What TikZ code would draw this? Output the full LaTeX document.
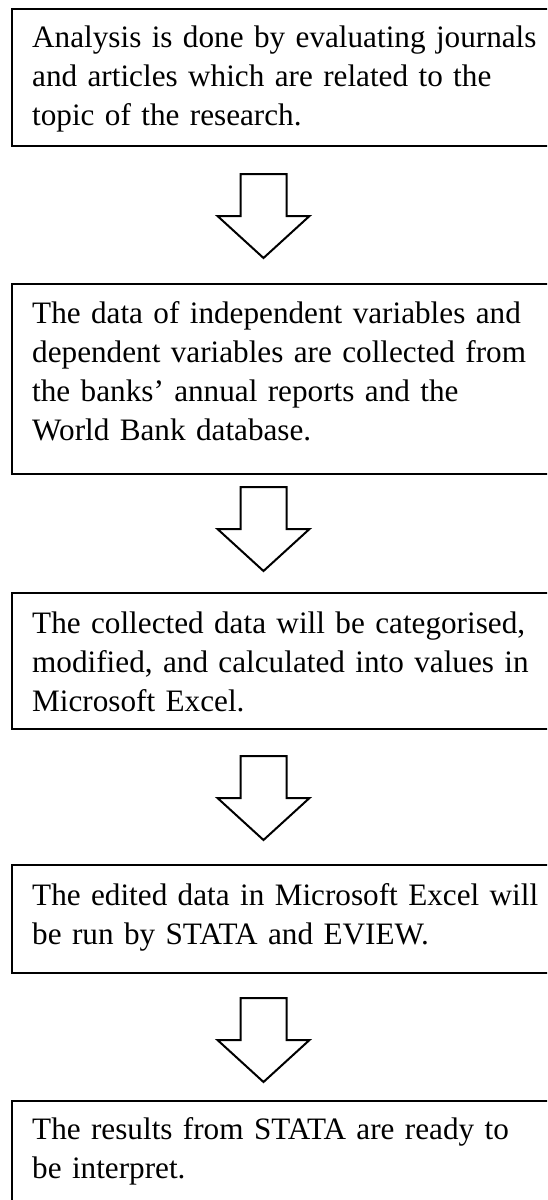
\documentclass[tikz,border=0pt]{standalone}
\usepackage{fontspec}
\setmainfont{Liberation Serif}
\hyphenpenalty=10000
\begin{document}
\begin{tikzpicture}[x=1pt,y=-1pt,
  box/.style={draw=black, line width=2.2pt, anchor=north west, minimum width=570pt, inner sep=0pt},
  txt/.style={anchor=base west, inner sep=0pt, text width=600pt, align=left,
    font=\fontsize{31.2}{39.3}\selectfont},
  arr/.style={draw=black, line width=2pt, line join=miter, fill=white},
  blockarrow/.pic={\path[arr] (-23,0) -- (-23,42) -- (-46,42) -- (0,84) -- (46,42) -- (23,42) -- (23,0) -- cycle;}
]
\useasboundingbox (0,0) rectangle (547,1200);
\clip (0,0) rectangle (547,1200);

% boxes
\node[box, minimum height=137pt] (b1) at (10.5,7.5) {};
\node[box, minimum height=190pt] (b2) at (10.5,283) {};
\node[box, minimum height=136pt] (b3) at (10.5,592) {};
\node[box, minimum height=108pt] (b4) at (10.5,864) {};
\node[box, minimum height=200pt] (b5) at (10.5,1100) {};

% texts
\node[txt] (t1) at (32,47) {Analysis is done by evaluating journals\\and articles which are related to the\\topic of the research.};
\node[txt] (t2) at (32,323) {The data of independent variables and\\dependent variables are collected from\\the banks’ annual reports and the\\World Bank database.};
\node[txt] (t3) at (32,633) {The collected data will be categorised,\\modified, and calculated into values in\\Microsoft Excel.};
\node[txt] (t4) at (32,905) {The edited data in Microsoft Excel will\\be run by STATA and EVIEW.};
\node[txt] (t5) at (32,1139) {The results from STATA are ready to\\be interpret.};

% block arrows
\coordinate (a1) at (263.5,174);
\coordinate (a2) at (263.5,487);
\coordinate (a3) at (263.5,756);
\coordinate (a4) at (263.5,998);
\pic at (a1) {blockarrow};
\pic at (a2) {blockarrow};
\pic at (a3) {blockarrow};
\pic at (a4) {blockarrow};
\end{tikzpicture}
\end{document}
